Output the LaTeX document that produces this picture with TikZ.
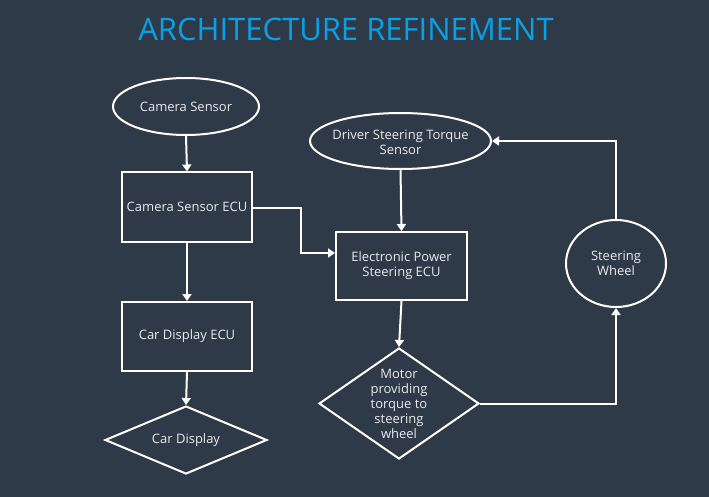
\documentclass[tikz,border=0pt]{standalone}
\usepackage{fontspec}
\setmainfont{Open Sans}
\usetikzlibrary{shapes.geometric,arrows.meta,calc}
\definecolor{bgc}{HTML}{2F3A48}
\definecolor{titlec}{HTML}{0AA0E6}
\definecolor{txtc}{HTML}{E8EAEC}
\tikzset{
  lw/.style={draw=white,line width=2pt},
  lblfont/.style={font=\fontsize{13}{15}\selectfont},
  boxn/.style={lw,rectangle,inner sep=0pt,minimum width=130pt,minimum height=69pt,text=txtc,lblfont,align=center},
  ellip/.style={lw,ellipse,inner sep=0pt,text=txtc,lblfont,align=center},
  diam/.style={lw,diamond,inner sep=0pt,text=txtc,lblfont,align=center},
  lbl/.style={text=txtc,lblfont,align=center,inner sep=0pt},
  arr/.style={draw=white,line width=2pt,-{Triangle[width=9pt,length=7pt]}},
}
\begin{document}
\begin{tikzpicture}[x=1pt,y=-1pt]
\fill[bgc] (0,0) rectangle (709,497);
\useasboundingbox (0,0) rectangle (709,497);
\node[anchor=base,text=titlec,font=\fontsize{31}{36}\selectfont] (title) at (346,41) {ARCHITECTURE REFINEMENT};

\node[ellip,minimum width=146pt,minimum height=57pt] (cam) at (186,106.5) {Camera Sensor};
\node[boxn] (camecu) at (187,207) {Camera Sensor ECU};
\node[boxn] (cdecu) at (187,336.5) {Car Display ECU};
\node[diam,shape aspect=2.4,minimum width=162pt,minimum height=68pt] (cd) at (186,440) {Car Display};

\node[ellip,minimum width=181pt,minimum height=56pt] (dsts) at (400.5,141) {};
\node[lbl] (dststxt) at (400.5,142) {Driver Steering Torque\\Sensor};
\node[boxn,minimum width=131pt,minimum height=68pt] (eps) at (401.5,266) {Electronic Power\\Steering ECU};
\node[diam,minimum width=160pt,minimum height=111pt] (motor) at (399,403.5) {};
\node[lbl] (motortxt) at (399,404) {Motor\\providing\\torque to\\steering\\wheel};
\node[ellip,minimum width=100pt,minimum height=87pt] (sw) at (616,263.5) {Steering\\Wheel};

\draw[arr] (cam.south) -- (camecu.north);
\draw[arr] ($(camecu.east)+(0,1)$) -- ++(48,0) |- ($(eps.west)+(0,-13)$);
\draw[arr] (camecu.south) -- (cdecu.north);
\draw[arr] (cdecu.south) -- (cd.north);
\draw[arr] (dsts.south) -- (eps.north);
\draw[arr] (eps.south) -- (motor.north);
\draw[arr] (motor.east) -| (sw.south);
\draw[arr] (sw.north) |- (dsts.east);
\end{tikzpicture}
\end{document}
